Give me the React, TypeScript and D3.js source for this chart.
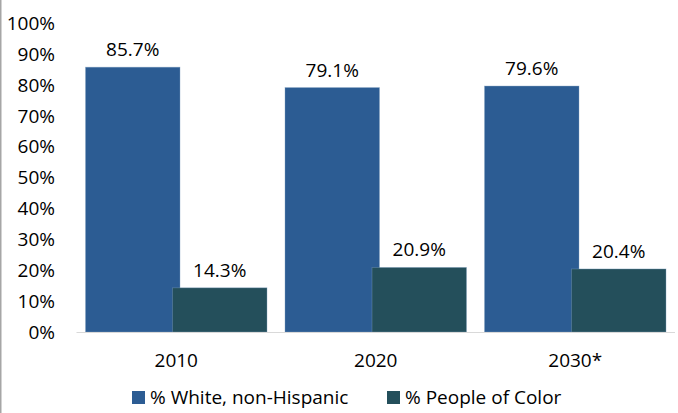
import React from "react";
import * as d3 from "d3";

const categories = ["2010", "2020", "2030*"];
const seriesNames = ["% White, non-Hispanic", "% People of Color"];
const whiteValues = [85.7, 79.1, 79.6];
const pocValues = [14.3, 20.9, 20.4];
const yTicks = [0, 10, 20, 30, 40, 50, 60, 70, 80, 90, 100];
const colors = ["#2C5C93", "#244F5B"];

const W = 678;
const H = 413;
const left = 76.5;
const right = 675;
const top = 23;
const bottom = 332;
const font = "'Open Sans', sans-serif";

export default function App() {
  const x = d3.scaleBand<string>().domain(categories).range([left, right]).paddingInner(0.088).paddingOuter(0.044);
  const y = d3.scaleLinear().domain([0, 100]).range([bottom, top]);
  const bw = 94.5;
  const offset = 87;
  const groupW = offset + bw;
  const series = [whiteValues, pocValues];

  return (
    <svg width={W} height={H} style={{ position: "absolute", left: 0, top: 0 }} fontFamily={font}>
      <rect x={0} y={0} width={W} height={H} fill="#fff" />
      <line x1={0.75} x2={0.75} y1={0} y2={H} stroke="#A6A6A6" strokeWidth={1.5} />
      {yTicks.map((t) => (
        <text key={t} x={55} y={y(t)} dy="0.36em" textAnchor="end" fontSize={19} fill="#000">
          {t}%
        </text>
      ))}
      {categories.map((c, i) => {
        const gx = x(c)! + (x.bandwidth() - groupW) / 2;
        return (
          <g key={c}>
            {series.map((vals, s) => {
              const bx = gx + s * offset;
              const v = vals[i];
              return (
                <g key={s}>
                  <rect x={bx} y={y(v)} width={bw} height={y(0) - y(v)} fill={colors[s]} stroke="#7F9FBF" strokeOpacity={0.5} strokeWidth={0.75} />
                  <text x={bx + bw / 2} y={y(v) - 11} textAnchor="middle" fontSize={19} fill="#000">
                    {v.toFixed(1)}%
                  </text>
                </g>
              );
            })}
            <text x={x(c)! + x.bandwidth() / 2} y={367} textAnchor="middle" fontSize={19} fill="#000">
              {c}
            </text>
          </g>
        );
      })}
      <line x1={left} x2={right} y1={bottom + 0.5} y2={bottom + 0.5} stroke="#D9D9D9" strokeWidth={1} />
      {seriesNames.map((n, s) => {
        const lx = s === 0 ? 132 : 387;
        return (
          <g key={n}>
            <rect x={lx} y={391} width={13} height={13} fill={colors[s]} />
            <text x={lx + 18} y={404} fontSize={19} fill="#000">
              {n}
            </text>
          </g>
        );
      })}
    </svg>
  );
}
